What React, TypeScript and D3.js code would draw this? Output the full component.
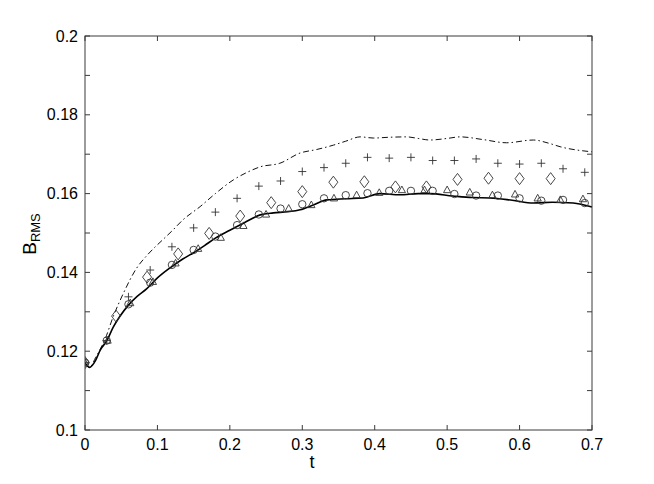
import React from "react";
import * as d3 from "d3";

// Solid curve
const solidT = [0, 0.006, 0.015, 0.021, 0.03, 0.039, 0.048, 0.06, 0.072, 0.085, 0.1, 0.117, 0.135, 0.15, 0.165, 0.18, 0.2, 0.22, 0.242, 0.26, 0.28, 0.297, 0.315, 0.334, 0.36, 0.384, 0.407, 0.435, 0.46, 0.476, 0.508, 0.535, 0.559, 0.59, 0.619, 0.645, 0.674, 0.7];
const solidV = [0.1171, 0.1159, 0.1178, 0.1203, 0.1226, 0.1261, 0.1288, 0.1317, 0.1339, 0.1358, 0.1386, 0.1411, 0.1434, 0.1450, 0.1468, 0.1487, 0.1507, 0.1526, 0.1546, 0.1551, 0.1554, 0.1559, 0.1571, 0.1584, 0.1587, 0.1589, 0.1600, 0.1597, 0.1600, 0.1600, 0.1594, 0.1590, 0.1589, 0.1583, 0.1576, 0.1578, 0.1576, 0.1566];

// Dash-dot curve
const dashT = [0, 0.006, 0.015, 0.028, 0.039, 0.053, 0.071, 0.087, 0.108, 0.12, 0.135, 0.159, 0.18, 0.205, 0.225, 0.242, 0.269, 0.297, 0.32, 0.343, 0.36, 0.38, 0.398, 0.42, 0.444, 0.46, 0.476, 0.5, 0.518, 0.55, 0.582, 0.619, 0.64, 0.656, 0.7];
const dashV = [0.1171, 0.1159, 0.1185, 0.1232, 0.1288, 0.1347, 0.1410, 0.1446, 0.1484, 0.1505, 0.1533, 0.1567, 0.1600, 0.1635, 0.1655, 0.1668, 0.1677, 0.1703, 0.1712, 0.1723, 0.1733, 0.1744, 0.1741, 0.1743, 0.1744, 0.1740, 0.1736, 0.1740, 0.1744, 0.1737, 0.1729, 0.1736, 0.1728, 0.1719, 0.1706];

// Plus markers
const plusT = [0, 0.03, 0.06, 0.09, 0.12, 0.15, 0.18, 0.21, 0.24, 0.27, 0.3, 0.33, 0.36, 0.39, 0.42, 0.45, 0.48, 0.51, 0.54, 0.57, 0.6, 0.63, 0.66, 0.69];
const plusV = [0.1171, 0.1227, 0.1338, 0.1406, 0.1465, 0.1513, 0.1553, 0.1588, 0.1619, 0.1632, 0.1656, 0.1666, 0.1677, 0.1692, 0.1690, 0.1692, 0.1684, 0.1684, 0.1688, 0.1677, 0.1675, 0.1677, 0.1663, 0.1654];

// Circle markers
const circT = [0, 0.03, 0.06, 0.09, 0.12, 0.15, 0.18, 0.21, 0.24, 0.27, 0.3, 0.33, 0.36, 0.39, 0.42, 0.45, 0.48, 0.51, 0.54, 0.57, 0.6, 0.63, 0.66, 0.69];
const circV = [0.1171, 0.1227, 0.1319, 0.1374, 0.1419, 0.1457, 0.1491, 0.1520, 0.1547, 0.1562, 0.1573, 0.1588, 0.1596, 0.1601, 0.1607, 0.1607, 0.1607, 0.1599, 0.1595, 0.1595, 0.1588, 0.1582, 0.1584, 0.1576];

// Triangle markers
const triT = [0, 0.03125, 0.0625, 0.09375, 0.125, 0.15625, 0.1875, 0.21875, 0.25, 0.28125, 0.3125, 0.34375, 0.375, 0.40625, 0.4375, 0.46875, 0.5, 0.53125, 0.5625, 0.59375, 0.625, 0.65625, 0.6875];
const triV = [0.1171, 0.1227, 0.1322, 0.1376, 0.1423, 0.1460, 0.1488, 0.1518, 0.1547, 0.1562, 0.1571, 0.1588, 0.1596, 0.1602, 0.1609, 0.1609, 0.1609, 0.1603, 0.1596, 0.1598, 0.1588, 0.1584, 0.1586];

// Diamond markers
const diaT = [0, 0.0429, 0.0857, 0.1286, 0.1714, 0.2143, 0.2571, 0.3, 0.3429, 0.3857, 0.4286, 0.4714, 0.5143, 0.5571, 0.6, 0.6429];
const diaV = [0.1171, 0.1289, 0.1388, 0.1447, 0.1499, 0.1543, 0.1577, 0.1605, 0.1629, 0.1630, 0.1617, 0.1617, 0.1636, 0.1639, 0.1638, 0.1638];

const xTicks = [0, 0.1, 0.2, 0.3, 0.4, 0.5, 0.6, 0.7];
const yTicks = [0.1, 0.11, 0.12, 0.13, 0.14, 0.15, 0.16, 0.17, 0.18, 0.19, 0.2];
const yLabels = [0.1, 0.12, 0.14, 0.16, 0.18, 0.2];

const W = 654, H = 484;
const L = 85, R = 592, T = 36, B = 430;

export default function App() {
  const x = d3.scaleLinear().domain([0, 0.7]).range([L, R]);
  const y = d3.scaleLinear().domain([0.1, 0.2]).range([B, T]);
  const line = d3.line<[number, number]>().x(d => x(d[0])).y(d => y(d[1])).curve(d3.curveMonotoneX);
  const solid = line(solidT.map((t, i) => [t, solidV[i]]))!;
  const dash = line(dashT.map((t, i) => [t, dashV[i]]))!;
  const font = "'Liberation Sans', Arial, Helvetica, sans-serif";
  const axisColor = "#3a3a3a";
  const mk = "#333";
  return (
    <svg width={W} height={H} style={{ position: "absolute", left: 0, top: 0, background: "#fff" }} fontFamily={font}>
      <rect x={0} y={0} width={W} height={H} fill="#fff" />
      <defs>
        <clipPath id="clip"><rect x={L} y={T - 10} width={R - L + 10} height={B - T + 10} /></clipPath>
      </defs>
      {xTicks.map(t => (
        <g key={"xt" + t}>
          <line x1={x(t)} x2={x(t)} y1={B} y2={B - 5} stroke={axisColor} strokeWidth={1} />
          <line x1={x(t)} x2={x(t)} y1={T} y2={T + 5} stroke={axisColor} strokeWidth={1} />
          <text x={x(t)} y={450} fontSize={16} textAnchor="middle" fill="#000">{String(t)}</text>
        </g>
      ))}
      {yTicks.map(v => (
        <g key={"yt" + v}>
          <line x1={L} x2={L + 5} y1={y(v)} y2={y(v)} stroke={axisColor} strokeWidth={1} />
          <line x1={R} x2={R - 5} y1={y(v)} y2={y(v)} stroke={axisColor} strokeWidth={1} />
        </g>
      ))}
      {yLabels.map(v => (
        <text key={"yl" + v} x={L - 7} y={y(v) + 5.5} fontSize={16} textAnchor="end" fill="#000">{String(v)}</text>
      ))}
      <g clipPath="url(#clip)">
        <path d={dash} fill="none" stroke="#111" strokeWidth={1} strokeDasharray="6,3,1.5,3" />
        <path d={solid} fill="none" stroke="#000" strokeWidth={1.6} />
        {plusT.map((t, i) => (
          <path key={"p" + i} d={`M${x(t) - 4},${y(plusV[i])}h8M${x(t)},${y(plusV[i]) - 4}v8`} stroke={mk} strokeWidth={0.9} fill="none" />
        ))}
        {circT.map((t, i) => (
          <circle key={"c" + i} cx={x(t)} cy={y(circV[i])} r={3.7} fill="none" stroke={mk} strokeWidth={0.9} />
        ))}
        {triT.map((t, i) => {
          const cx = x(t), cy = y(triV[i]);
          return <path key={"t" + i} d={`M${cx},${cy - 4}L${cx + 3.6},${cy + 2.6}L${cx - 3.6},${cy + 2.6}Z`} fill="none" stroke={mk} strokeWidth={0.9} />;
        })}
        {diaT.map((t, i) => {
          const cx = x(t), cy = y(diaV[i]);
          return <path key={"d" + i} d={`M${cx},${cy - 6}L${cx + 4.5},${cy}L${cx},${cy + 6}L${cx - 4.5},${cy}Z`} fill="none" stroke={mk} strokeWidth={0.9} />;
        })}
      </g>
      <rect x={L} y={T} width={R - L} height={B - T} fill="none" stroke={axisColor} strokeWidth={1} />
      <text x={312} y={468} fontSize={18} textAnchor="middle" fill="#000">t</text>
      <text transform="translate(36,234) rotate(-90)" textAnchor="middle" fill="#000" fontSize={19}>
        B<tspan fontSize={13} dy={4}>RMS</tspan>
      </text>
    </svg>
  );
}
